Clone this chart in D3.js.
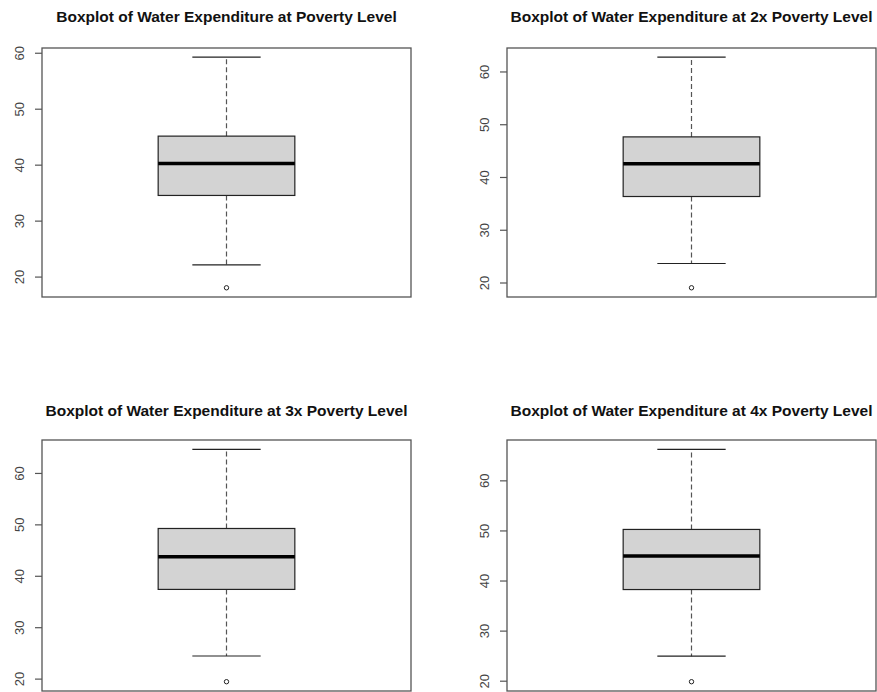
<!DOCTYPE html>
<html>
<head>
<meta charset="utf-8">
<script src="https://cdn.jsdelivr.net/npm/d3@7"></script>
<style>
  html, body { margin: 0; padding: 0; background: #fff; }
  svg { display: block; }
</style>
</head>
<body>
<svg id="chart" width="877" height="692"></svg>
<script>
// Summary statistics of water expenditure for each income level
const titles = [
  "Boxplot of Water Expenditure at Poverty Level",
  "Boxplot of Water Expenditure at 2x Poverty Level",
  "Boxplot of Water Expenditure at 3x Poverty Level",
  "Boxplot of Water Expenditure at 4x Poverty Level"
];
const whiskerLow  = [22.1, 23.6, 24.4, 24.9];
const q1          = [34.5, 36.3, 37.35, 38.2];
const median      = [40.2, 42.5, 43.7, 44.9];
const q3          = [45.1, 47.6, 49.2, 50.2];
const whiskerHigh = [59.2, 62.7, 64.6, 66.2];
const outliers    = [[18.0], [19.0], [19.4], [19.8]];
const tickValues  = [20, 30, 40, 50, 60];

// Plot regions (left, top, right, bottom) for the 2x2 grid
const panels = [
  { x0: 42,  y0: 48,  x1: 411, y1: 297 },
  { x0: 507, y0: 48,  x1: 876, y1: 297 },
  { x0: 42,  y0: 440, x1: 411, y1: 691 },
  { x0: 507, y0: 440, x1: 876, y1: 691 }
];
const titleBaseline = [22, 22, 416, 416];

const svg = d3.select("#chart");

panels.forEach((p, i) => {
  const lo = d3.min([whiskerLow[i], ...outliers[i]]);
  const hi = d3.max([whiskerHigh[i], ...outliers[i]]);
  const pad = (hi - lo) * 0.04;

  const y = d3.scaleLinear().domain([lo - pad, hi + pad]).range([p.y1, p.y0]);
  const x = d3.scaleLinear().domain([0.46, 1.54]).range([p.x0, p.x1]);

  const g = svg.append("g");

  // title
  g.append("text")
    .attr("x", (p.x0 + p.x1) / 2)
    .attr("y", titleBaseline[i])
    .attr("text-anchor", "middle")
    .attr("font-family", "Liberation Sans, Arial, sans-serif")
    .attr("font-weight", "bold")
    .attr("font-size", 15.5)
    .attr("fill", "#111")
    .text(titles[i]);

  // y axis with rotated labels
  const axis = d3.axisLeft(y).tickValues(tickValues).tickSize(7).tickPadding(0).tickFormat(d3.format("d"));
  const ax = g.append("g").attr("transform", `translate(${p.x0},0)`).call(axis);
  ax.select(".domain").remove();
  ax.selectAll(".tick line").attr("stroke", "#555").attr("stroke-width", 1.2);
  ax.selectAll(".tick text")
    .attr("transform", "rotate(-90)")
    .attr("x", 0)
    .attr("y", -18)
    .attr("dy", 0)
    .attr("text-anchor", "middle")
    .attr("font-family", "Liberation Sans, Arial, sans-serif")
    .attr("font-size", 13)
    .attr("fill", "#444");

  const cx = x(1);

  // whiskers (dashed)
  g.append("line")
    .attr("x1", cx).attr("x2", cx)
    .attr("y1", y(q3[i])).attr("y2", y(whiskerHigh[i]))
    .attr("stroke", "#555").attr("stroke-width", 1.2).attr("stroke-dasharray", "5,3");
  g.append("line")
    .attr("x1", cx).attr("x2", cx)
    .attr("y1", y(q1[i])).attr("y2", y(whiskerLow[i]))
    .attr("stroke", "#555").attr("stroke-width", 1.2).attr("stroke-dasharray", "5,3");

  // whisker caps
  [whiskerHigh[i], whiskerLow[i]].forEach(v => {
    g.append("line")
      .attr("x1", x(0.9)).attr("x2", x(1.1))
      .attr("y1", y(v)).attr("y2", y(v))
      .attr("stroke", "#222").attr("stroke-width", 1.2);
  });

  // box
  g.append("rect")
    .attr("x", x(0.8))
    .attr("y", y(q3[i]))
    .attr("width", x(1.2) - x(0.8))
    .attr("height", y(q1[i]) - y(q3[i]))
    .attr("fill", "#d3d3d3")
    .attr("stroke", "#222")
    .attr("stroke-width", 1.2);

  // median
  g.append("line")
    .attr("x1", x(0.8)).attr("x2", x(1.2))
    .attr("y1", y(median[i])).attr("y2", y(median[i]))
    .attr("stroke", "#000").attr("stroke-width", 3.5);

  // outliers
  g.selectAll("circle.out")
    .data(outliers[i])
    .join("circle")
    .attr("class", "out")
    .attr("cx", cx)
    .attr("cy", d => y(d))
    .attr("r", 2.2)
    .attr("fill", "none")
    .attr("stroke", "#222")
    .attr("stroke-width", 1);

  // plot frame
  g.append("rect")
    .attr("x", p.x0).attr("y", p.y0)
    .attr("width", p.x1 - p.x0).attr("height", p.y1 - p.y0)
    .attr("fill", "none")
    .attr("stroke", "#555")
    .attr("stroke-width", 1.3);
});
</script>
</body>
</html>
